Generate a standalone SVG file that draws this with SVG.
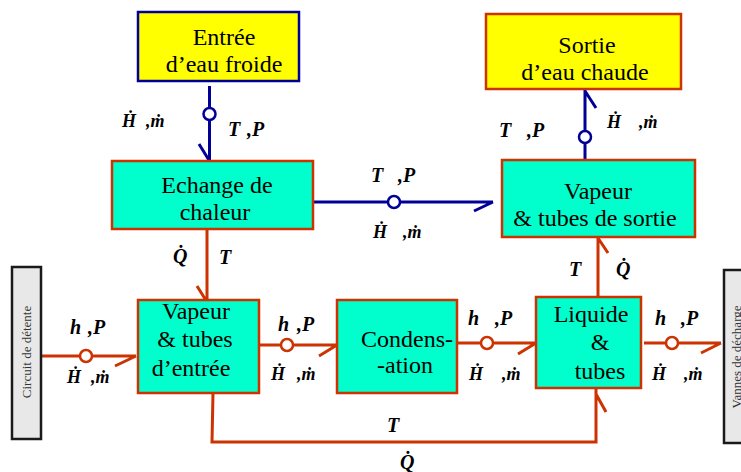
<svg xmlns="http://www.w3.org/2000/svg" width="741" height="472" viewBox="0 0 741 472">
<style>
.yb{fill:#ffff00;stroke-width:2.5}
.cb{fill:#00ffcc;stroke:#cc3300;stroke-width:2.5}
.gb{fill:#e8e8e8;stroke:#1a1a1a;stroke-width:2.5}
.t{font-size:24px;fill:#000;text-anchor:middle}
.v{font-size:13px;fill:#333;text-anchor:middle}
.l{font-size:20px;font-weight:bold;font-style:italic;fill:#000}
.s{font-size:18px;font-weight:bold;font-style:italic;fill:#000}
.bl{fill:none;stroke:#000099;stroke-width:3}
.rd{fill:none;stroke:#cc3300;stroke-width:3}
.bc{fill:#fff;stroke:#000099;stroke-width:2.5}
.rc{fill:#fff;stroke:#cc3300;stroke-width:2.5}
</style>
<rect width="741" height="472" fill="#fff"/>
<g id="connectors">
  <path class="bl" d="M209.5 86V162M199 144L209.5 161"/>
  <circle class="bc" cx="209.5" cy="114" r="6"/>
  <path class="bl" d="M313 202H493M474 211L493 202"/>
  <circle class="bc" cx="394" cy="202" r="6"/>
  <path class="bl" d="M585 165V90M596 108L585 91"/>
  <circle class="bc" cx="585" cy="137" r="6"/>
  <path class="rd" d="M207 229V302M197 286L207 302"/>
  <path class="rd" d="M41 356H136M115 366L136 356"/>
  <circle class="rc" cx="86" cy="356" r="6"/>
  <path class="rd" d="M259 345H337M319 356L337 345"/>
  <circle class="rc" cx="287" cy="345" r="6"/>
  <path class="rd" d="M457 343H536M518 354L536 343"/>
  <circle class="rc" cx="487" cy="343" r="6"/>
  <path class="rd" d="M644 343H721M701 353L721 343"/>
  <circle class="rc" cx="672" cy="343" r="6"/>
  <path class="rd" d="M598 297V238M608 253L598 238"/>
  <path class="rd" d="M213 393L212 442H596V389M606 412L596 394"/>
</g>
<g id="labels" font-family="Liberation Serif, Times New Roman, DejaVu Serif, serif">
  <text class="s" y="127"><tspan x="122">Ḣ</tspan><tspan x="146">,ṁ</tspan></text>
  <text class="l" y="136"><tspan x="228">T</tspan><tspan x="247">,P</tspan></text>
  <text class="l" y="182"><tspan x="371">T</tspan><tspan x="398">,P</tspan></text>
  <text class="s" y="238"><tspan x="373">Ḣ</tspan><tspan x="403">,ṁ</tspan></text>
  <text class="l" y="137"><tspan x="499">T</tspan><tspan x="527">,P</tspan></text>
  <text class="s" y="128"><tspan x="607">Ḣ</tspan><tspan x="639">,ṁ</tspan></text>
  <text class="l" y="263"><tspan x="173">Q̇</tspan></text>
  <text class="l" y="264"><tspan x="219">T</tspan></text>
  <text class="l" y="334"><tspan x="70">h</tspan><tspan x="88">,P</tspan></text>
  <text class="s" y="383"><tspan x="67">Ḣ</tspan><tspan x="91">,ṁ</tspan></text>
  <text class="l" y="331"><tspan x="278">h</tspan><tspan x="297">,P</tspan></text>
  <text class="s" y="380"><tspan x="271">Ḣ</tspan><tspan x="297">,ṁ</tspan></text>
  <text class="l" y="325"><tspan x="468">h</tspan><tspan x="495">,P</tspan></text>
  <text class="s" y="380"><tspan x="469">Ḣ</tspan><tspan x="502">,ṁ</tspan></text>
  <text class="l" y="325"><tspan x="655">h</tspan><tspan x="681">,P</tspan></text>
  <text class="s" y="380"><tspan x="652">Ḣ</tspan><tspan x="684">,ṁ</tspan></text>
  <text class="l" y="276"><tspan x="569">T</tspan></text>
  <text class="l" y="276"><tspan x="616">Q̇</tspan></text>
  <text class="l" y="432"><tspan x="387">T</tspan></text>
  <text class="l" y="469"><tspan x="400">Q̇</tspan></text>
</g>
<g font-family="Liberation Serif, Times New Roman, DejaVu Serif, serif">
<g id="entree">
  <rect class="yb" x="138" y="12" width="161" height="69" stroke="#000099"/>
  <text class="t" x="224" y="45">Entrée</text>
  <text class="t" x="224" y="72">d’eau froide</text>
</g>
<g id="sortie">
  <rect class="yb" x="486" y="14" width="195" height="75" stroke="#cc3300"/>
  <text class="t" x="587" y="53">Sortie</text>
  <text class="t" x="585" y="80">d’eau chaude</text>
</g>
<g id="echange">
  <rect class="cb" x="112" y="161" width="201" height="68"/>
  <text class="t" x="217" y="193">Echange de</text>
  <text class="t" x="215" y="220">chaleur</text>
</g>
<g id="vapeur-sortie">
  <rect class="cb" x="502" y="160" width="193" height="77"/>
  <text class="t" x="598" y="199">Vapeur</text>
  <text class="t" x="595" y="226">&amp; tubes de sortie</text>
</g>
<g id="vapeur-entree">
  <rect class="cb" x="138" y="300" width="121" height="93"/>
  <text class="t" x="196" y="319">Vapeur</text>
  <text class="t" x="195" y="347">&amp; tubes</text>
  <text class="t" x="191" y="376">d’entrée</text>
</g>
<g id="condensation">
  <rect class="cb" x="337" y="300" width="120" height="93"/>
  <text class="t" x="407" y="347">Condens-</text>
  <text class="t" x="405" y="373">-ation</text>
</g>
<g id="liquide">
  <rect class="cb" x="536" y="297" width="105" height="91"/>
  <text class="t" x="591" y="322">Liquide</text>
  <text class="t" x="600" y="350">&amp;</text>
  <text class="t" x="600" y="379">tubes</text>
</g>
<g id="circuit">
  <rect class="gb" x="12" y="267" width="29" height="172"/>
  <text class="v" transform="translate(31,352) rotate(-90)">Circuit de détente</text>
</g>
<g id="vannes">
  <rect class="gb" x="724" y="270" width="30" height="173"/>
  <text class="v" transform="translate(741,357) rotate(-90)">Vannes de décharge</text>
</g>
</g>
</svg>
